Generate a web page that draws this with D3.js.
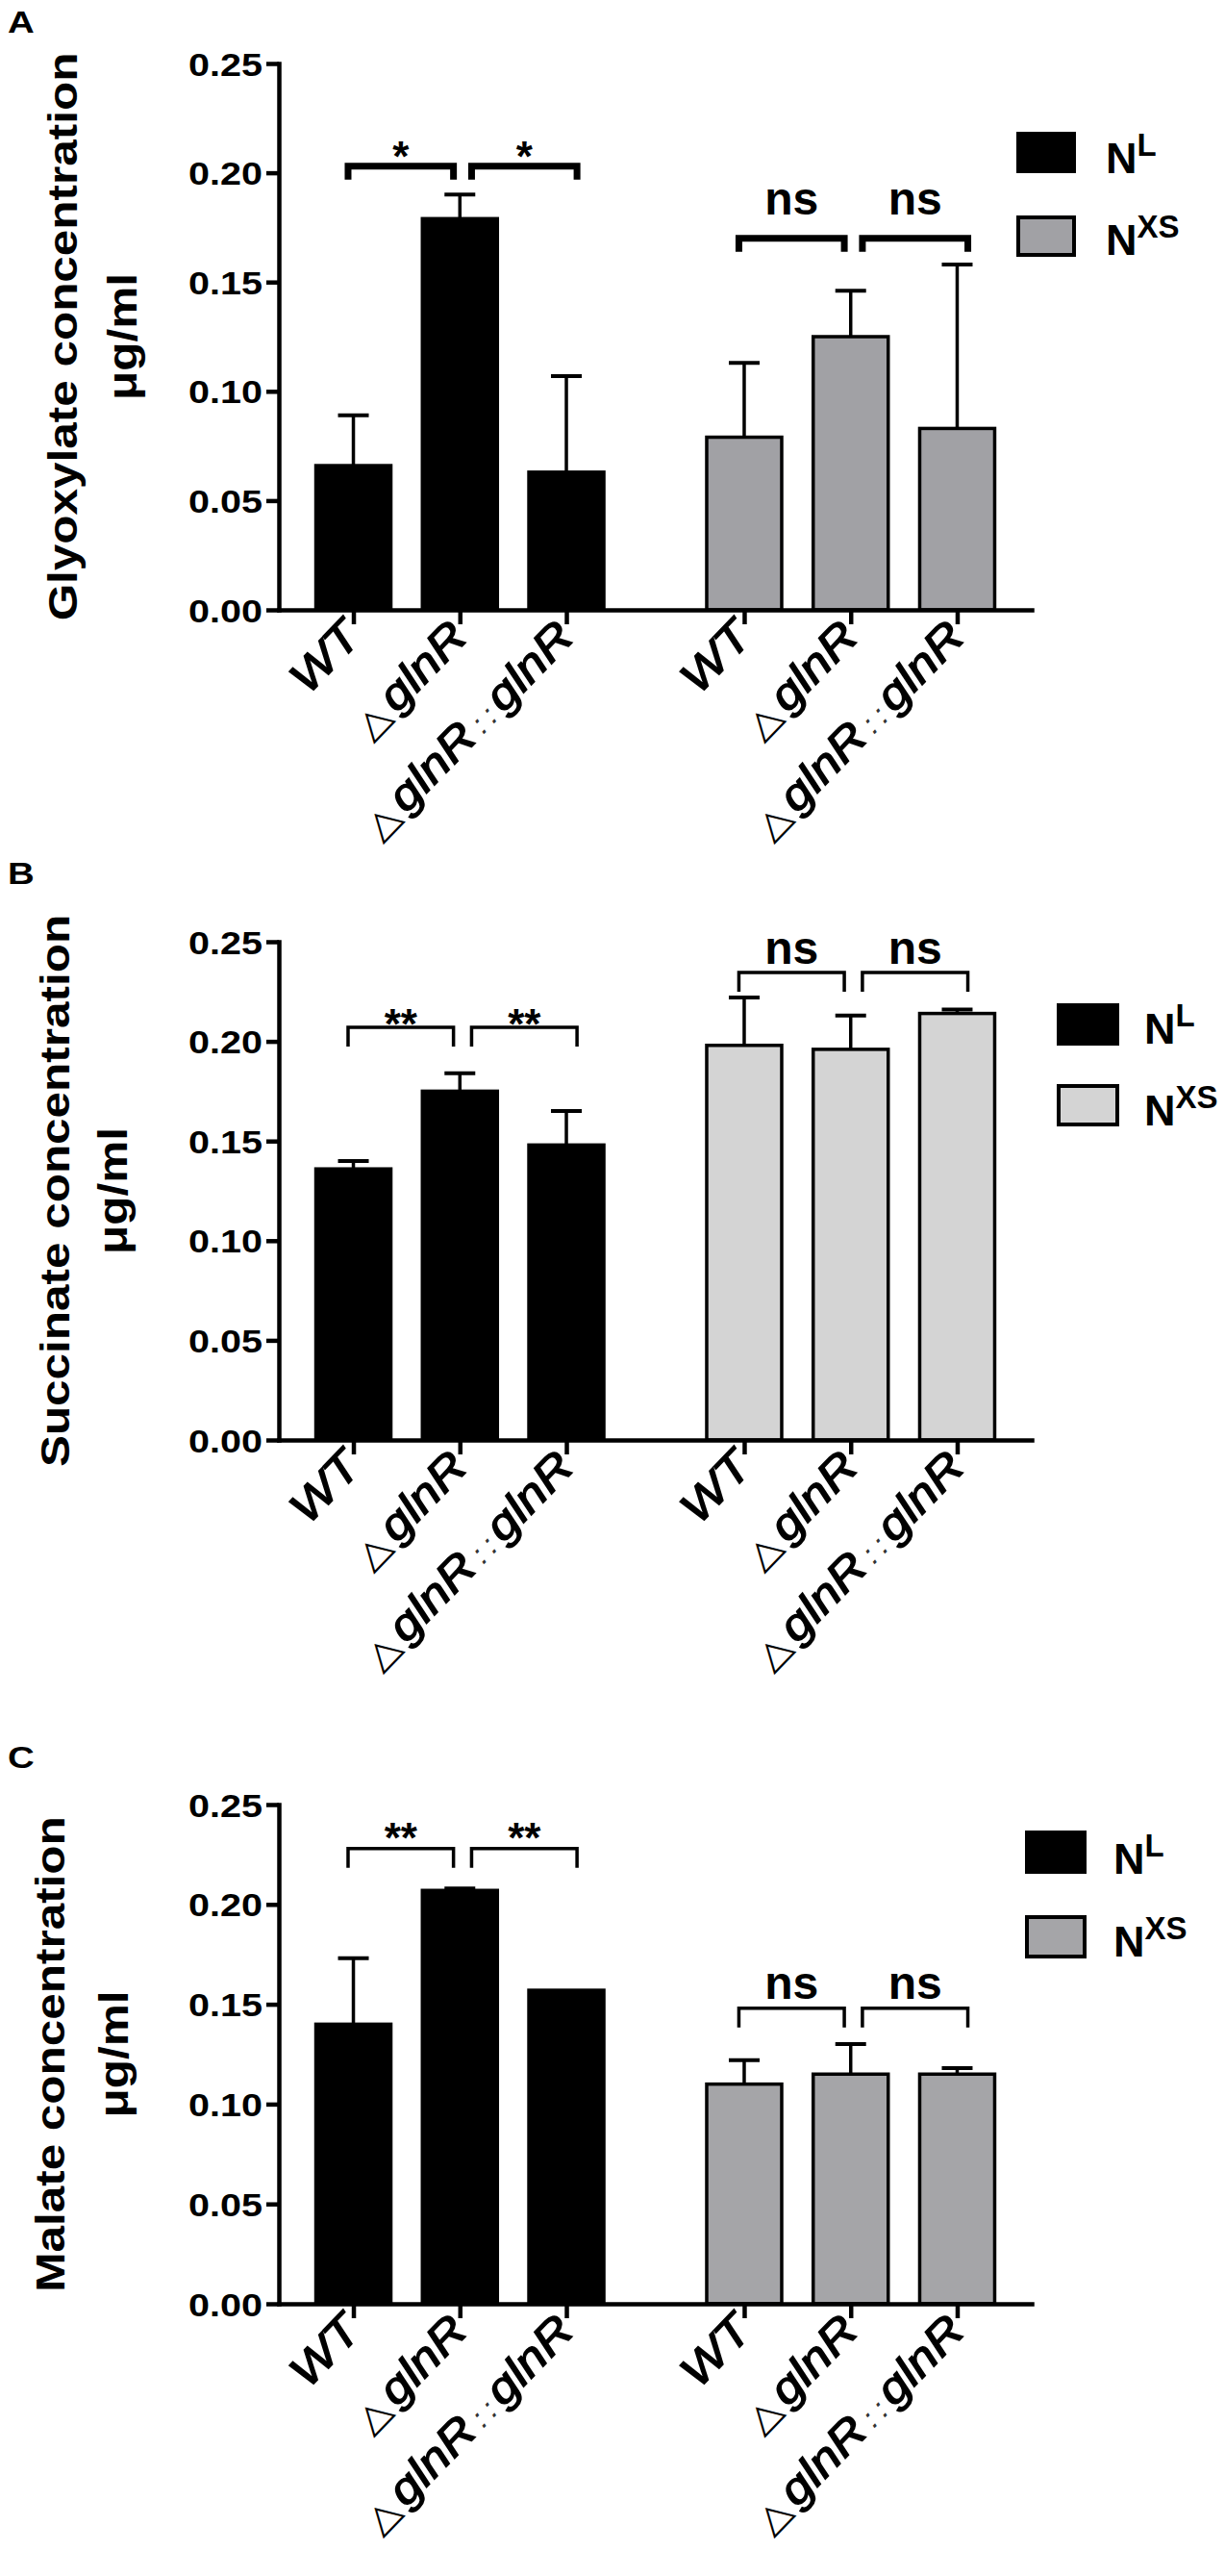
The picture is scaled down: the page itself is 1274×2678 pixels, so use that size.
<!doctype html>
<html lang="en">
<head>
<meta charset="utf-8">
<title>Glyoxylate, succinate and malate concentration</title>
<style>
    body{ margin:0; background:#fff; }
    svg text{ font-family: "Liberation Sans", Arial, Helvetica, sans-serif; fill:#000; }
</style>
</head>
<body>
<div id="vis"></div>
<script src="https://d3js.org/d3.v7.min.js"></script>
<script>
// values
var strains = ['WT', '△glnR', '△glnR::glnR'];
var conditions = ['L', 'XS'];          // superscripts of N in the legend
var yTicks = [0, 0.05, 0.10, 0.15, 0.20, 0.25];
var panelLetters = ['A', 'B', 'C'];
var yTitles = ['Glyoxylate concentration', 'Succinate concentration', 'Malate concentration'];
var yUnit = 'μg/ml';

var glyoxylateNL = [0.066, 0.179, 0.063];
var glyoxylateNLsd = [0.023, 0.011, 0.044];
var glyoxylateNXS = [0.079, 0.125, 0.083];
var glyoxylateNXSsd = [0.034, 0.021, 0.075];

var succinateNL = [0.136, 0.175, 0.148];
var succinateNLsd = [0.004, 0.009, 0.017];
var succinateNXS = [0.198, 0.196, 0.214];
var succinateNXSsd = [0.024, 0.017, 0.002];

var malateNL = [0.140, 0.207, 0.157];
var malateNLsd = [0.033, 0.001, 0];
var malateNXS = [0.110, 0.115, 0.115];
var malateNXSsd = [0.012, 0.015, 0.003];

// significance label and bracket height per group (N^L, N^XS)
var sigGlyoxylate = ['*', 'ns'],  brkGlyoxylate = [0.203, 0.170];
var sigSuccinate = ['**', 'ns'],  brkSuccinate = [0.207, 0.2345];
var sigMalate = ['**', 'ns'],     brkMalate = [0.228, 0.148];

// layout of the three panels
var panels = [
    {nl: glyoxylateNL, nlsd: glyoxylateNLsd, nxs: glyoxylateNXS, nxssd: glyoxylateNXSsd,
     sig: sigGlyoxylate, brk: brkGlyoxylate, top: 66, bottom: 634, letterY: 34, titleX: [80, 142],
     grey: '#a1a1a5', brkW: 7, brkLeg: 14, sigOff: [5, -25],
     legX: 1059, legY: [139, 226], legW: 58, legH: 39, legTx: 1150, legBase: [180, 265]},
    {nl: succinateNL, nlsd: succinateNLsd, nxs: succinateNXS, nxssd: succinateNXSsd,
     sig: sigSuccinate, brk: brkSuccinate, top: 979, bottom: 1497, letterY: 919, titleX: [72, 132],
     grey: '#d4d4d4', brkW: 3.5, brkLeg: 20, sigOff: [12, -9],
     legX: 1101, legY: [1045, 1129], legW: 61, legH: 40, legTx: 1190, legBase: [1085, 1170]},
    {nl: malateNL, nlsd: malateNLsd, nxs: malateNXS, nxssd: malateNXSsd,
     sig: sigMalate, brk: brkMalate, top: 1876, bottom: 2395, letterY: 1838, titleX: [67, 133],
     grey: '#a5a5a8', brkW: 3.5, brkLeg: 20, sigOff: [4, -10],
     legX: 1068, legY: [1905, 1993], legW: 60, legH: 41, legTx: 1158, legBase: [1948, 2034]}
];

var W = 1274, H = 2678;
var svg = d3.select('#vis').append('svg').attr('width', W).attr('height', H);

var groupStep = 3.67,   // bar slots between the first bar of each group
    barW = 78, capW = 32;
var x = d3.scaleLinear().domain([-0.7, 2 + groupStep + 0.7]).range([290, 1073]);
function pos(gi, i){ return gi * groupStep + i; }

// text with a horizontal stretch along its own baseline
function stext(sel, str, px, py, o){
    var t = sel.append('text')
        .attr('transform', 'translate(' + px + ',' + py + ') rotate(' + (o.rot || 0) + ') scale(' + (o.k || 1) + ',1)')
        .attr('text-anchor', o.anchor || 'start')
        .style('font-size', o.size + 'px')
        .style('font-weight', o.weight || 'bold');
    if(str) t.text(str);
    return t;
}

panels.forEach(function(p, pi){
    var g = svg.append('g');
    var y = d3.scaleLinear().domain([0, 0.25]).range([p.bottom, p.top]);
    var series = [p.nl, p.nxs], sds = [p.nlsd, p.nxssd], fills = ['#000', p.grey];

    stext(g, panelLetters[pi], 8, p.letterY, {size: 32, k: 1.2});

    // y title, two lines
    var cy = (p.top + p.bottom) / 2;
    stext(g, yTitles[pi], p.titleX[0], cy, {size: 43, k: 1.15, rot: -90, anchor: 'middle'});
    stext(g, yUnit, p.titleX[1], cy, {size: 43, k: 1.15, rot: -90, anchor: 'middle'});

    series.forEach(function(vals, gi){
        var data = vals.map(function(v, i){ return {i: i, v: v, sd: sds[gi][i]}; });
        g.selectAll(null).data(data).enter().append('rect')
            .attr('x', function(d){ return x(pos(gi, d.i)) - barW / 2; })
            .attr('y', function(d){ return y(d.v); })
            .attr('width', barW)
            .attr('height', function(d){ return y(0) - y(d.v); })
            .attr('fill', fills[gi]).attr('stroke', '#000').attr('stroke-width', 3.5);

        var eb = g.selectAll(null).data(data.filter(function(d){ return d.sd > 0; })).enter().append('g');
        eb.append('line')
            .attr('x1', function(d){ return x(pos(gi, d.i)); })
            .attr('x2', function(d){ return x(pos(gi, d.i)); })
            .attr('y1', function(d){ return y(d.v); })
            .attr('y2', function(d){ return y(d.v + d.sd); })
            .attr('stroke', '#000').attr('stroke-width', 3.5);
        eb.append('line')
            .attr('x1', function(d){ return x(pos(gi, d.i)) - capW / 2; })
            .attr('x2', function(d){ return x(pos(gi, d.i)) + capW / 2; })
            .attr('y1', function(d){ return y(d.v + d.sd); })
            .attr('y2', function(d){ return y(d.v + d.sd); })
            .attr('stroke', '#000').attr('stroke-width', 4);

        // brackets WT-ΔglnR and ΔglnR-complement
        var yl = y(p.brk[gi]);
        [[-0.05, 0.94], [1.11, 2.1]].forEach(function(span){
            var xa = x(pos(gi, span[0])), xb = x(pos(gi, span[1]));
            g.append('path')
                .attr('d', 'M' + xa + ',' + (yl + p.brkLeg) + 'V' + yl + 'H' + xb + 'V' + (yl + p.brkLeg))
                .attr('fill', 'none').attr('stroke', '#000').attr('stroke-width', p.brkW);
            var s = p.sig[gi];
            stext(g, s, (xa + xb) / 2, yl + (s === 'ns' ? p.sigOff[1] : p.sigOff[0]),
                {size: s === 'ns' ? 48 : 44, anchor: 'middle'});
        });
    });

    // y axis
    var ya = g.append('g').attr('transform', 'translate(' + x.range()[0] + ',0)')
        .call(d3.axisLeft(y).tickValues(yTicks).tickFormat(d3.format('.2f')).tickSize(13).tickSizeOuter(0));
    ya.attr('font-family', null).attr('font-size', null);
    ya.select('.domain').attr('stroke-width', 4.5).attr('stroke-linecap', 'square');
    ya.selectAll('.tick line').attr('stroke-width', 4.5);
    ya.selectAll('.tick text')
        .attr('x', -17 / 1.18).attr('dy', '0.36em')
        .attr('transform', 'scale(1.18,1)')
        .style('font-size', '33.5px').style('font-weight', 'bold');

    // x axis
    var xa = g.append('g').attr('transform', 'translate(0,' + p.bottom + ')')
        .call(d3.axisBottom(x).tickValues([0, 1, 2, groupStep, groupStep + 1, groupStep + 2])
            .tickFormat('').tickSize(15).tickSizeOuter(0));
    xa.select('.domain').attr('stroke-width', 4.5).attr('stroke-linecap', 'square');
    xa.selectAll('.tick line').attr('stroke-width', 4.5);

    // rotated category labels
    [0, 1].forEach(function(gi){
        strains.forEach(function(name, i){
            var t = stext(g, null, x(pos(gi, i)) + 10, p.bottom + 30,
                {size: 46, k: 1.15, rot: -46, anchor: 'end', weight: 'normal'});
            var after = 0;
            name.split(/(△|::)/).filter(function(s){ return s.length; }).forEach(function(part){
                var ts = t.append('tspan').text(part);
                if(after) ts.attr('dx', after);
                after = 0;
                if(part === '△'){
                    ts.style('font-family', '"DejaVu Sans", sans-serif').style('font-size', '38px');
                    after = 5;
                }else if(part === '::'){
                    ts.style('font-style', 'italic').style('font-size', '30px')
                      .style('letter-spacing', '5px').attr('dx', 5).style('fill', '#333');
                }else{
                    ts.style('font-style', 'italic').attr('stroke', '#000').attr('stroke-width', 1.4);
                }
            });
        });
    });

    // legend
    conditions.forEach(function(c, ci){
        g.append('rect')
            .attr('x', p.legX).attr('y', p.legY[ci])
            .attr('width', p.legW).attr('height', p.legH)
            .attr('fill', fills[ci]).attr('stroke', '#000').attr('stroke-width', 4);
        var t = stext(g, null, p.legTx, p.legBase[ci], {size: 45, k: 1.0});
        t.append('tspan').text('N');
        t.append('tspan').text(c).attr('dy', -18).style('font-size', '33px');
    });
});
</script>
</body>
</html>
